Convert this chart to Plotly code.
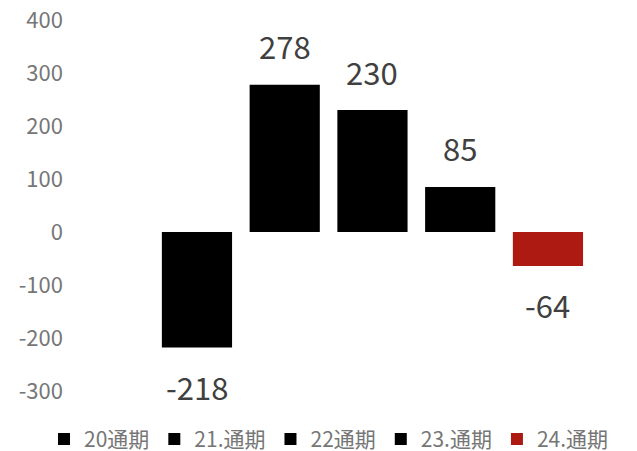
import plotly.graph_objects as go

series_names = ["20通期", "21.通期", "22通期", "23.通期", "24.通期"]
values = [-218, 278, 230, 85, -64]
colors = ["#000000", "#000000", "#000000", "#000000", "#AD1A11"]
y_ticks = [-300, -200, -100, 0, 100, 200, 300, 400]

FONT = "Noto Sans CJK JP, Noto Sans, sans-serif"

fig = go.Figure()
for i, (name, v, c) in enumerate(zip(series_names, values, colors)):
    fig.add_trace(go.Bar(
        x=[i + 1], y=[v], name=name, marker=dict(color=c, line=dict(width=0)),
        width=0.8, showlegend=True,
    ))
    fig.add_annotation(
        x=i + 1, y=v, text=str(v), showarrow=False,
        yshift=39 if v >= 0 else -39,
        font=dict(family=FONT, size=31, color="#404040"),
    )

fig.update_layout(
    width=637, height=451,
    margin=dict(l=62, r=0, t=12, b=68, autoexpand=False),
    paper_bgcolor="white", plot_bgcolor="white",
    barmode="overlay",
    font=dict(family=FONT, color="#595959"),
    xaxis=dict(range=[-0.447, 6.106], showticklabels=False, showgrid=False,
               zeroline=False, showline=False, ticks=""),
    yaxis=dict(range=[-300, 400], tickvals=y_ticks,
               ticktext=[str(t) for t in y_ticks], showgrid=False,
               zeroline=False, showline=False, ticks="",
               tickfont=dict(family=FONT, size=22, color="#767676"),
               ticklabelstandoff=6, ticklabeloverflow="allow"),
    legend=dict(orientation="h", x=-0.0452, xanchor="left",
                y=-0.13, yanchor="middle",
                font=dict(family=FONT, size=21, color="#767676"),
                itemwidth=30, entrywidth=0,
                traceorder="normal"),
)

fig.write_html("out.html")
